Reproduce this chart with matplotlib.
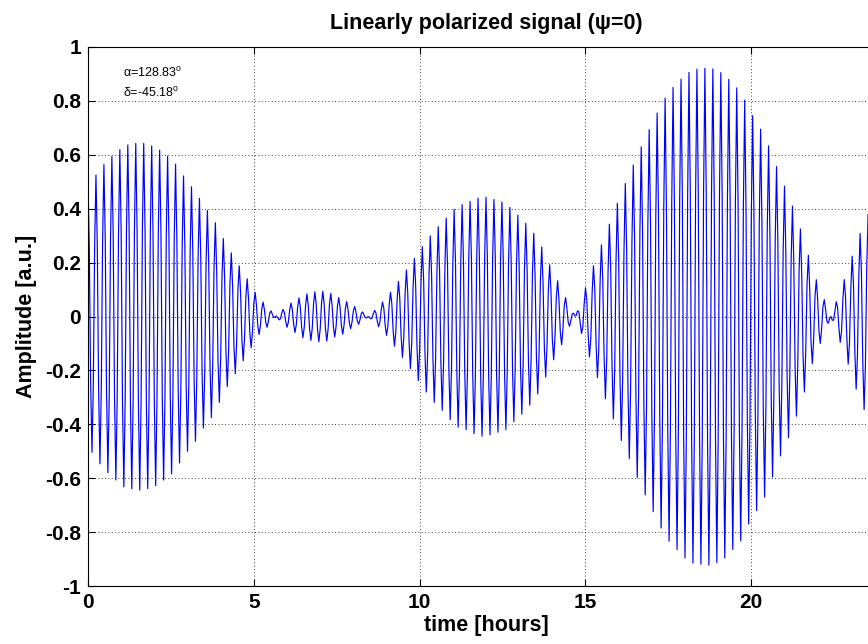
import numpy as np
import matplotlib
matplotlib.use("Agg")
import matplotlib.pyplot as plt

plt.rcParams['font.family'] = ['Liberation Sans', 'DejaVu Sans']
plt.rcParams['mathtext.fontset'] = 'custom'
plt.rcParams['mathtext.rm'] = 'Liberation Sans'

# envelope of the signal (hours, amplitude); sign flips at the zeros
env_t = [0.0, 0.13, 0.38, 0.6, 0.87, 1.1, 1.34, 1.59, 1.81, 2.05, 2.3, 2.56, 2.78, 3.0,
         3.26, 3.47, 3.75, 4.2, 4.7, 4.95, 5.13, 5.4, 5.65,
         6.0, 6.25, 6.5, 6.75, 7.0, 7.27, 7.45, 7.7, 7.9, 8.15, 8.45,
         8.7, 9.0, 9.3, 9.5, 9.7, 10.0, 10.2, 10.45, 10.7, 10.9, 11.15, 11.4, 11.65, 11.9,
         12.1, 12.35, 12.6, 12.8, 13.1, 13.35, 13.6, 13.8, 14.0, 14.3, 14.5, 14.7,
         14.9, 15.12, 15.34, 15.6, 15.84, 16.08, 16.33, 16.57, 16.83, 17.05, 17.3, 17.53,
         17.76, 18.0, 18.25, 18.48, 18.73, 18.97, 19.2, 19.45, 19.7, 19.92, 20.18, 20.4,
         20.64, 20.87, 21.12, 21.36, 21.6, 21.85, 22.08, 22.4,
         22.75, 22.93, 23.13, 23.38, 23.6, 24.0]
env_a = [0.49, 0.505, 0.55, 0.58, 0.61, 0.634, 0.64, 0.645, 0.638, 0.627, 0.605, 0.58, 0.54, 0.50,
         0.46, 0.415, 0.37, 0.26, 0.16, 0.11, 0.07, 0.04, 0.0,
         -0.04, -0.06, -0.08, -0.09, -0.095, -0.09, -0.075, -0.065, -0.046, -0.03, 0.0,
         0.03, 0.07, 0.12, 0.155, 0.19, 0.245, 0.28, 0.32, 0.35, 0.38, 0.41, 0.42, 0.435, 0.445,
         0.44, 0.43, 0.42, 0.395, 0.36, 0.325, 0.28, 0.225, 0.17, 0.10, 0.04, 0.0,
         -0.07, -0.15, -0.22, -0.305, -0.38, -0.46, -0.53, -0.60, -0.67, -0.727, -0.79, -0.836,
         -0.865, -0.896, -0.916, -0.919, -0.923, -0.913, -0.896, -0.863, -0.83, -0.77, -0.716, -0.67,
         -0.596, -0.52, -0.45, -0.37, -0.28, -0.17, -0.10, 0.0,
         0.12, 0.18, 0.26, 0.34, 0.40, 0.50]

carrier_period = 0.24   # hours, from peak spacing
sample_step = 0.04      # hours, 6 samples per cycle

x_ticks = [0, 5, 10, 15, 20]
y_ticks = [-1, -0.8, -0.6, -0.4, -0.2, 0, 0.2, 0.4, 0.6, 0.8, 1]
y_labels = ['-1', '-0.8', '-0.6', '-0.4', '-0.2', '0', '0.2', '0.4', '0.6', '0.8', '1']

t = np.arange(0, 24 + sample_step / 2, sample_step)
signal = np.interp(t, env_t, env_a) * np.cos(2 * np.pi * t / carrier_period)

fig = plt.figure(figsize=(8.68, 6.44), dpi=100)
ax = fig.add_axes([88 / 868, 58 / 644, 796 / 868, 539 / 644])

ax.plot(t, signal, color='#0000ff', lw=0.85)

ax.set_xlim(0, 24)
ax.set_ylim(-1, 1)
ax.set_xticks(x_ticks)
ax.set_yticks(y_ticks)
ax.set_yticklabels(y_labels)
ax.grid(True, color='k', linestyle=(0, (1, 3)), lw=0.6)
ax.tick_params(direction='in', top=True, right=True, length=5, width=0.8,
               labelsize=15, pad=5)
for lab in ax.get_xticklabels() + ax.get_yticklabels():
    lab.set_fontweight('bold')
for s in ax.spines.values():
    s.set_linewidth(0.8)

ax.set_title('Linearly polarized signal (ψ=0)', fontsize=15.5, fontweight='bold', pad=13)
ax.set_xlabel('time [hours]', fontsize=15.5, fontweight='bold', labelpad=2)
ax.set_ylabel('Amplitude [a.u.]', fontsize=15.5, fontweight='bold', labelpad=6)

ax.text(1.06, 0.905, 'α=128.83$^{\\mathrm{o}}$', fontsize=9, va='center')
ax.text(1.06, 0.83, 'δ=-45.18$^{\\mathrm{o}}$', fontsize=9, va='center')

fig.savefig('out.png', dpi=100)
